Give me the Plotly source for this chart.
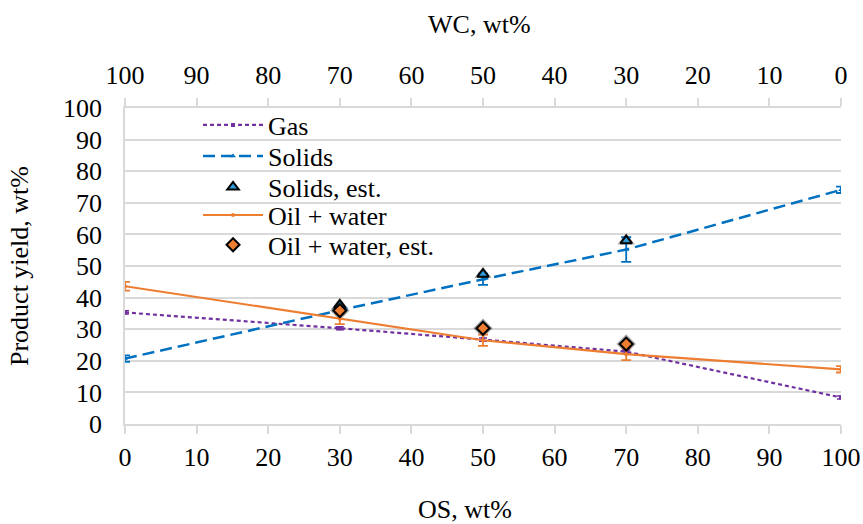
import plotly.graph_objects as go

os_wt = [0, 30, 50, 70, 100]
wc_ticks = [100, 90, 80, 70, 60, 50, 40, 30, 20, 10, 0]

gas = [35.3, 30.3, 26.7, 22.9, 8.4]
gas_err = [0.5, 0.5, 0.5, 0.5, 0.5]
solids = [20.7, 36.0, 45.8, 55.2, 74.1]
solids_err = [1.0, 1.0, 1.8, 3.9, 1.0]
oil = [43.6, 33.2, 26.5, 22.1, 17.3]
oil_err = [1.4, 1.6, 1.8, 1.9, 1.0]

est_os = [30, 50, 70]
solids_est = [37.6, 47.4, 58.0]
oil_est = [35.9, 30.3, 25.3]

FONT = "Liberation Serif"
GRID = "#d9d9d9"
PURPLE = "#7030A0"
BLUE = "#0070C0"
ORANGE = "#ED7D31"
FS = 26

fig = go.Figure()
# soft dark halo behind the estimate markers
fig.add_trace(go.Scatter(
    x=est_os, y=solids_est, mode="markers", showlegend=False, hoverinfo="skip",
    marker=dict(symbol="triangle-up", size=15, color="rgba(0,0,0,0.35)"),
))
fig.add_trace(go.Scatter(
    x=est_os, y=oil_est, mode="markers", showlegend=False, hoverinfo="skip",
    marker=dict(symbol="diamond", size=15, color="rgba(0,0,0,0.35)"),
))
fig.add_trace(go.Scatter(
    x=os_wt, y=gas, name="Gas", mode="lines+markers", legend="legend",
    line=dict(color=PURPLE, width=2.2, dash="4px,3px"),
    marker=dict(symbol="square", size=4, color=PURPLE),
    error_y=dict(type="data", array=gas_err, color=PURPLE, thickness=1.5, width=4),
))
fig.add_trace(go.Scatter(
    x=os_wt, y=solids, name="Solids", mode="lines+markers", legend="legend2",
    line=dict(color=BLUE, width=2.5, dash="12px,6px"),
    marker=dict(symbol="triangle-up", size=5, color=BLUE),
    error_y=dict(type="data", array=solids_err, color=BLUE, thickness=1.8, width=5),
))
fig.add_trace(go.Scatter(
    x=est_os, y=solids_est, name="Solids, est.", mode="markers", legend="legend3",
    marker=dict(symbol="triangle-up", size=10, color="#2E9BD6",
                line=dict(color="black", width=2)),
))
fig.add_trace(go.Scatter(
    x=os_wt, y=oil, name="Oil + water", mode="lines+markers", legend="legend4",
    line=dict(color=ORANGE, width=2.2),
    marker=dict(symbol="circle", size=4, color=ORANGE),
    error_y=dict(type="data", array=oil_err, color=ORANGE, thickness=1.8, width=5),
))
fig.add_trace(go.Scatter(
    x=est_os, y=oil_est, name="Oil + water, est.", mode="markers", legend="legend5",
    marker=dict(symbol="diamond", size=10, color=ORANGE,
                line=dict(color="black", width=2)),
))
# invisible trace to activate the top (WC) axis
fig.add_trace(go.Scatter(
    x=wc_ticks, y=[None] * len(wc_ticks), xaxis="x2", mode="markers",
    showlegend=False, hoverinfo="skip", marker=dict(opacity=0),
))

leg_rows = [0.946, 0.848, 0.750, 0.661, 0.567]
def leg(y):
    return dict(x=0.102, y=y, xanchor="left", yanchor="middle",
                bgcolor="rgba(0,0,0,0)", font=dict(size=FS, family=FONT),
                itemwidth=60, borderwidth=0)

fig.update_layout(
    width=863, height=524,
    margin=dict(l=125, r=22, t=108, b=100, autoexpand=False),
    paper_bgcolor="white", plot_bgcolor="white",
    font=dict(family=FONT, size=FS, color="black"),
    showlegend=True,
    legend=leg(leg_rows[0]), legend2=leg(leg_rows[1]), legend3=leg(leg_rows[2]),
    legend4=leg(leg_rows[3]), legend5=leg(leg_rows[4]),
    xaxis=dict(range=[0, 100], tickvals=list(range(0, 101, 10)),
               showgrid=False, showline=True, linecolor=GRID, linewidth=1.5,
               ticks="outside", ticklen=8, tickcolor=GRID, tickwidth=1.5,
               zeroline=False, ticklabelstandoff=1,
               tickfont=dict(size=FS, family=FONT)),
    xaxis2=dict(range=[100, 0], overlaying="x", side="top", anchor="y",
                tickvals=wc_ticks, showgrid=False, showline=True,
                linecolor=GRID, linewidth=1.5, ticks="outside", ticklen=8,
                tickcolor=GRID, tickwidth=1.5, zeroline=False,
                ticklabelstandoff=4, tickfont=dict(size=FS, family=FONT)),
    yaxis=dict(range=[0, 100], tickvals=list(range(0, 101, 10)),
               showgrid=True, gridcolor=GRID, gridwidth=1.5,
               showline=True, linecolor=GRID, linewidth=1.5,
               zeroline=False, ticks="", ticklabelstandoff=16,
               tickfont=dict(size=FS, family=FONT)),
    annotations=[
        dict(text="OS, wt%", x=0.475, y=-0.272, xref="paper", yref="paper",
             showarrow=False, font=dict(size=FS, family=FONT), yanchor="middle"),
        dict(text="WC, wt%", x=0.495, y=1.265, xref="paper", yref="paper",
             showarrow=False, font=dict(size=FS, family=FONT), yanchor="middle"),
        dict(text="Product yield, wt%", x=-0.148, y=0.5, xref="paper", yref="paper",
             showarrow=False, textangle=-90, font=dict(size=FS, family=FONT),
             xanchor="center", yanchor="middle"),
    ],
)

fig.write_html("out.html")
